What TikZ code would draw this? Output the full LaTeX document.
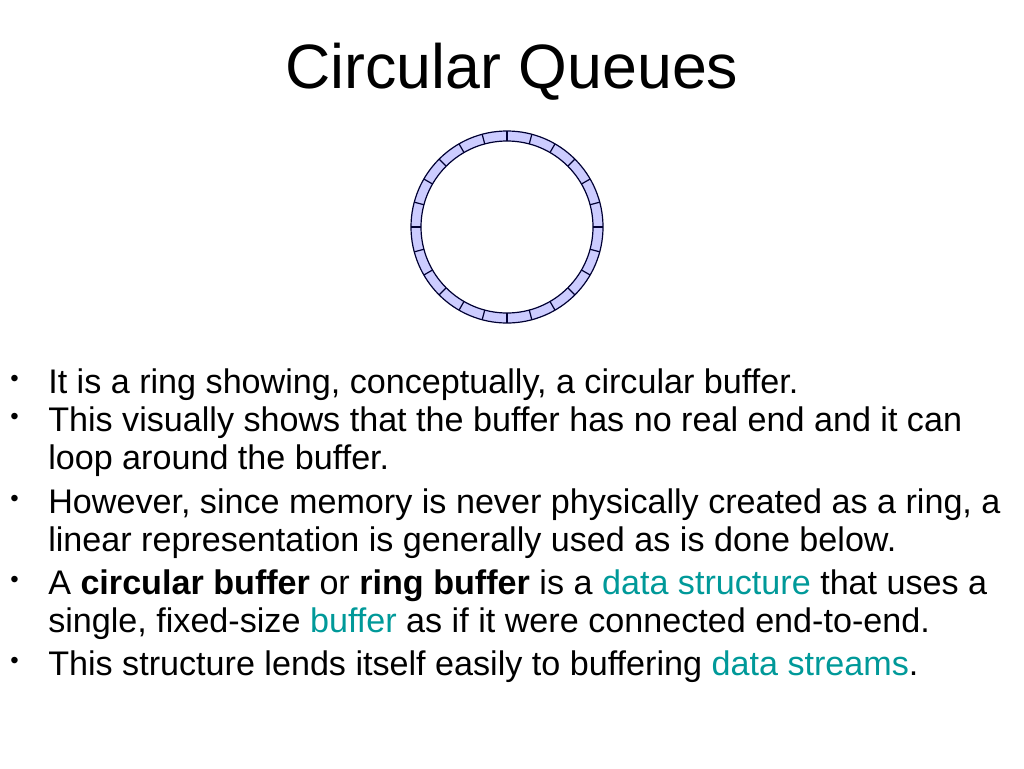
\documentclass[tikz,border=0pt]{standalone}
\usetikzlibrary{calc}
\usepackage{fontspec}
\setmainfont{Liberation Sans}
\definecolor{teal1}{RGB}{0,153,153}
\definecolor{ringfill}{RGB}{204,204,255}
\begin{document}
\begin{tikzpicture}[x=0.75pt,y=-0.75pt,
  txt/.style={anchor=base west,inner sep=0pt,font=\fontsize{25.6}{30}\selectfont},
  bul/.style={anchor=base west,inner sep=0pt,font=\fontsize{18}{22}\selectfont}]
\useasboundingbox (0,0) rectangle (1024,768);
\node[anchor=base,inner sep=0pt,font=\fontsize{47}{54}\selectfont] (title) at (512,88) {Circular Queues};
% ring
\coordinate (c) at (507,227);
\fill[ringfill,even odd rule] (c) circle[radius=96] (c) circle[radius=86];
\draw[black!80!blue,line width=0.9pt] (c) circle[radius=96] (c) circle[radius=86];
\foreach \a in {0,15,...,345}
  \draw[black!80!blue,line width=0.9pt] ($(c)+(\a:86)$) -- ($(c)+(\a:96)$);
% bullets
\foreach \y in {386,424,506,587,668}
  \node[bul] at (10,\y) {•};
\node[txt] (l1) at (48,393) {It is a ring showing, conceptually, a circular buffer.};
\node[txt] (l2) at (48,431) {This visually shows that the buffer has no real end and it can};
\node[txt] (l3) at (48,469) {loop around the buffer.};
\node[txt] (l4) at (48,513) {However, since memory is never physically created as a ring, a};
\node[txt] (l5) at (48,551) {linear representation is generally used as is done below.};
\node[txt] (l6) at (48,594) {A \textbf{circular buffer} or \textbf{ring buffer} is a \textcolor{teal1}{data structure} that uses a};
\node[txt] (l7) at (48,632) {single, fixed-size \textcolor{teal1}{buffer} as if it were connected end-to-end.};
\node[txt] (l8) at (48,675) {This structure lends itself easily to buffering \textcolor{teal1}{data streams}.};
\end{tikzpicture}
\end{document}
